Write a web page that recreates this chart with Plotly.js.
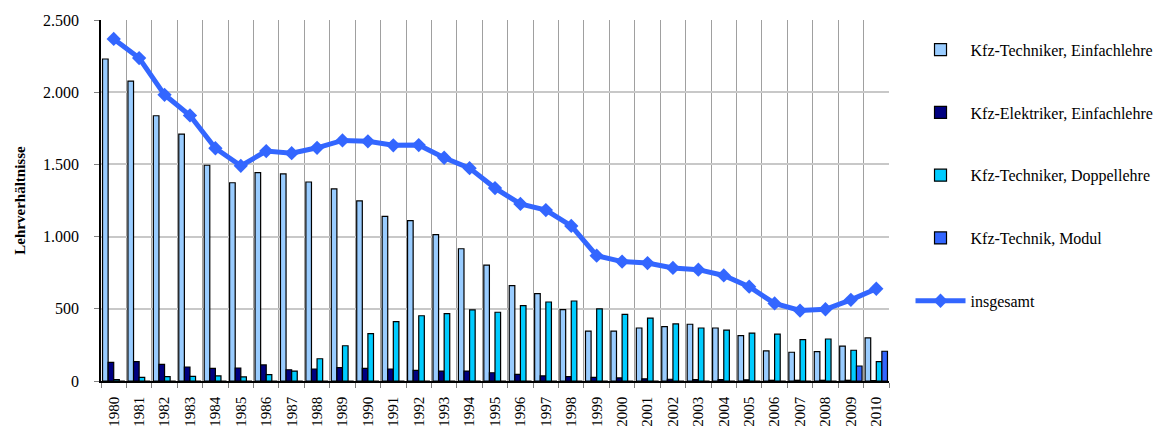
<!DOCTYPE html>
<html><head><meta charset="utf-8">
<script src="https://cdn.plot.ly/plotly-3.0.1.min.js"></script>
<style>body{margin:0;background:#fff}#chart{width:1170px;height:438px}</style>
</head><body><div id="chart"></div>
<script>
const years = ['1980','1981','1982','1983','1984','1985','1986','1987','1988','1989','1990','1991','1992','1993','1994','1995','1996','1997','1998','1999','2000','2001','2002','2003','2004','2005','2006','2007','2008','2009','2010'];
const technikerEinfach = [2230,2077,1837,1710,1494,1373,1443,1434,1378,1330,1247,1140,1110,1013,916,803,660,605,494,346,346,367,376,393,367,314,208,199,203,242,298];
const elektrikerEinfach = [129,134,115,97,88,90,111,78,83,92,88,83,74,69,69,57,46,35,30,25,21,15,12,10,10,8,5,5,5,5,3];
const technikerDoppel = [10,25,30,32,35,28,44,69,154,244,328,411,452,466,492,476,522,547,554,499,462,436,395,367,353,332,325,286,291,213,134];
const technikModul = [0,0,0,0,0,0,0,0,0,0,0,0,0,0,0,0,0,0,0,0,0,0,0,0,0,0,0,0,0,104,206];
const insgesamt = [2369,2236,1982,1839,1612,1490,1592,1578,1615,1666,1660,1632,1634,1546,1474,1336,1226,1184,1074,868,827,817,783,771,731,653,537,488,497,562,639];

const outline = {color:'#000', width:1.2};
const font = 'Liberation Serif, Times New Roman, serif';
const traces = [
  {type:'bar', name:'Kfz-Techniker, Einfachlehre', x:years, y:technikerEinfach, marker:{color:'#99CCFF', line:outline}, legendgroup:'a'},
  {type:'bar', name:'Kfz-Elektriker, Einfachlehre', x:years, y:elektrikerEinfach, marker:{color:'#000080', line:outline}, legendgroup:'b'},
  {type:'bar', name:'Kfz-Techniker, Doppellehre', x:years, y:technikerDoppel, marker:{color:'#00CCFF', line:outline}, legendgroup:'c'},
  {type:'bar', name:'Kfz-Technik, Modul', x:years, y:technikModul, marker:{color:'#3366FF', line:outline}, legendgroup:'d'},
  {type:'scatter', mode:'lines+markers', name:'insgesamt', x:years, y:insgesamt, line:{color:'#3366FF', width:5}, marker:{symbol:'diamond', size:11, color:'#3366FF'}, legendgroup:'e'}
];
const layout = {
  width:1170, height:438,
  margin:{l:101, r:280, t:20, b:57},
  paper_bgcolor:'#fff', plot_bgcolor:'#fff',
  separators:',.',
  barmode:'group', bargap:0.12, bargroupgap:0,
  font:{family:font, size:15, color:'#000'},
  showlegend:true,
  legend:{x:1.026, y:0.965, xanchor:'left', yanchor:'top', traceorder:'grouped', tracegroupgap:39, font:{family:font, size:16}, itemwidth:50},
  xaxis:{type:'category', range:[-0.5,30.5], automargin:false, tickangle:-90, tickson:'boundaries', ticks:'outside', ticklen:5, tickcolor:'#808080',
         showgrid:true, gridcolor:'#a0a0a0', gridwidth:1, showline:true, linecolor:'#000', linewidth:1.5,
         tickfont:{family:font, size:15}, ticklabelstandoff:8},
  yaxis:{automargin:false, range:[0,2500], tickvals:[0,500,1000,1500,2000,2500], tickformat:',d', ticks:'outside', ticklen:5, tickcolor:'#808080',
         showgrid:true, gridcolor:'#c8c8c8', gridwidth:2, showline:true, linecolor:'#000', linewidth:1.5, zeroline:false,
         tickfont:{family:font, size:16}, ticklabelstandoff:12,
         title:{text:'<b>Lehrverhältnisse</b>', font:{family:font, size:15}, standoff:14}}
};
Plotly.newPlot('chart', traces, layout, {displayModeBar:false});
</script></body></html>
